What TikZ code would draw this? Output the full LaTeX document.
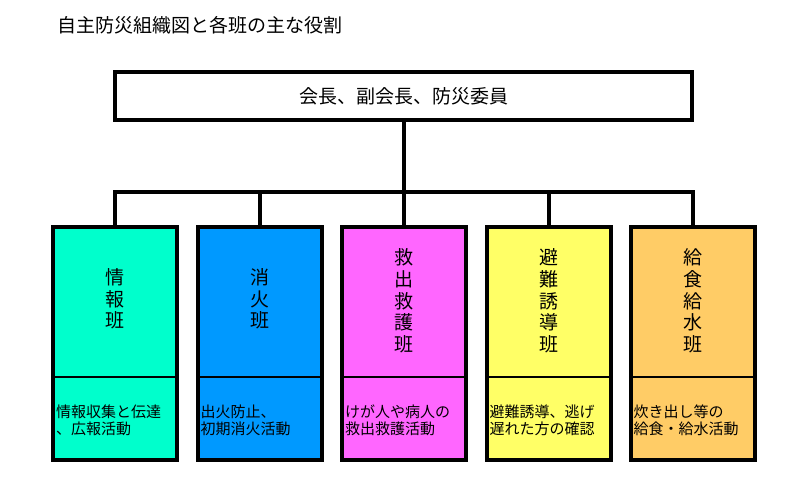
\documentclass[tikz,border=0pt]{standalone}
\usepackage{fontspec}
\setmainfont{Noto Sans CJK JP}
\definecolor{mint}{RGB}{0,255,204}
\definecolor{skyblue}{RGB}{0,153,255}
\definecolor{pinkish}{RGB}{255,102,255}
\definecolor{lightyellow}{RGB}{255,255,102}
\definecolor{lightorange}{RGB}{255,204,102}
\begin{document}
\begin{tikzpicture}[x=1pt,y=-1pt,
  titletext/.style={anchor=west, inner sep=0pt, font=\fontsize{19}{22}\selectfont},
  headbox/.style={draw, line width=4pt, minimum width=577pt, minimum height=48pt, outer sep=0pt, inner sep=0pt, font=\fontsize{19}{22}\selectfont},
  teambox/.style={draw, line width=4pt, minimum width=124pt, minimum height=233pt, outer sep=0pt, inner sep=0pt},
  vtitle/.style={align=center, inner sep=0pt, font=\fontsize{19}{21.7}\selectfont},
  desc/.style={anchor=west, align=left, inner sep=0pt, xshift=3pt, font=\fontsize{15}{17}\selectfont},
  divider/.style={line width=1.6pt},
  link/.style={line width=4pt, line join=miter}]
\useasboundingbox (0,0) rectangle (805,494);
\node[titletext] (title) at (57,25) {自主防災組織図と各班の主な役割};
\node[headbox] (top) at (403.5,96) {会長、副会長、防災委員};
\coordinate (bus) at (404,192);

\node[teambox, fill=mint] (b1) at (115,343.5) {};
\node[teambox, fill=skyblue] (b2) at (259.5,343.5) {};
\node[teambox, fill=pinkish] (b3) at (404,343.5) {};
\node[teambox, fill=lightyellow] (b4) at (548.5,343.5) {};
\node[teambox, fill=lightorange] (b5) at (692.5,343.5) {};

\draw[link] (top.south) -- (top.south |- bus);
\draw[link] (b1.north) -- (b1.north |- bus) -- (b5.north |- bus) -- (b5.north);
\draw[link] (b2.north) -- (b2.north |- bus);
\draw[link] (b3.north) -- (b3.north |- bus);
\draw[link] (b4.north) -- (b4.north |- bus);

\draw[divider] (b1.west |- 0,377) -- (b1.east |- 0,377);
\draw[divider] (b2.west |- 0,377) -- (b2.east |- 0,377);
\draw[divider] (b3.west |- 0,377) -- (b3.east |- 0,377);
\draw[divider] (b4.west |- 0,377) -- (b4.east |- 0,377);
\draw[divider] (b5.west |- 0,377) -- (b5.east |- 0,377);

\node[vtitle] (t1) at (115,299) {情\\報\\班};
\node[vtitle] (t2) at (259.5,299) {消\\火\\班};
\node[vtitle] (t3) at (404,301) {救\\出\\救\\護\\班};
\node[vtitle] (t4) at (548.5,301) {避\\難\\誘\\導\\班};
\node[vtitle] (t5) at (692.5,301) {給\\食\\給\\水\\班};

\node[desc] (d1) at (b1.west |- 0,420) {情報収集と伝達\\、広報活動};
\node[desc] (d2) at (b2.west |- 0,420) {出火防止、\\初期消火活動};
\node[desc] (d3) at (b3.west |- 0,420) {けが人や病人の\\救出救護活動};
\node[desc] (d4) at (b4.west |- 0,420) {避難誘導、逃げ\\遅れた方の確認};
\node[desc] (d5) at (b5.west |- 0,420) {炊き出し等の\\給食・給水活動};
\end{tikzpicture}
\end{document}
